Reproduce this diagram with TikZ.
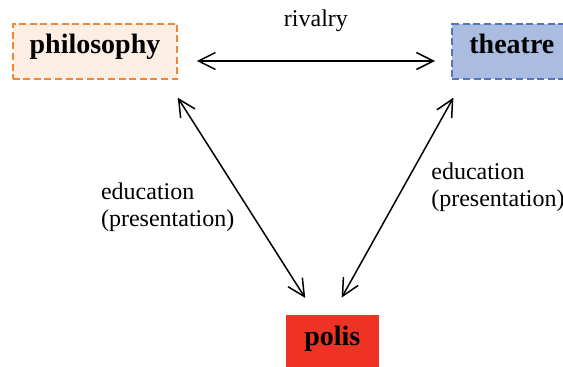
\documentclass[tikz,border=0pt]{standalone}
\usepackage{fontspec}
\setmainfont{Liberation Serif}
\usetikzlibrary{positioning, arrows.meta}
\definecolor{philofill}{RGB}{252,238,227}
\definecolor{philodraw}{RGB}{241,134,52}
\definecolor{theatrefill}{RGB}{170,188,224}
\definecolor{theatredraw}{RGB}{84,116,190}
\definecolor{polisfill}{RGB}{238,50,36}
\tikzset{
  >={Straight Barb[length=8.5pt,width=8.5pt]},
  node distance=136.5pt,
  place/.style={font=\fontsize{14}{16}\selectfont\bfseries, minimum height=27.5pt,
    inner xsep=8.5pt, inner ysep=0pt, text height=9.25pt, text depth=6.75pt},
  dashbox/.style={place, line width=1pt, dash pattern=on 3.5pt off 1.8pt},
  link/.style={<->, line width=0.75pt},
  lbl/.style={font=\fontsize{12}{13.5}\selectfont, align=left},
}
\begin{document}
\begin{tikzpicture}[x=0.5pt, y=-0.5pt]
      \useasboundingbox (0,0) rectangle (563,367);

      \node[dashbox, draw=philodraw, fill=philofill] (philosophy) at (95,51.5) {philosophy};
      \node[dashbox, draw=theatredraw, fill=theatrefill, right=of philosophy] (theatre) {theatre};
      \node[place, fill=polisfill, minimum width=46.7pt] (polis) at (332.3,343) {polis};

      \draw[link] ([shift={(18.4,9.5)}]philosophy.east)
            -- node[lbl, above=11pt] (rivalry) {rivalry}
            ([shift={(-16.3,9.5)}]theatre.west);
      \draw[link] ([shift={(-0.6,17.7)}]philosophy.south east)
            -- node[lbl, left=2.85pt, pos=0.547] (eduleft) {education\\(presentation)}
            ([shift={(20,-17.2)}]polis.north west);
      \draw[link] ([shift={(2,17.7)}]theatre.south west)
            -- node[lbl, right=10.35pt, pos=0.449] (eduright) {education\\(presentation)}
            ([shift={(9.4,-17.5)}]polis.north);
    \end{tikzpicture}
\end{document}
